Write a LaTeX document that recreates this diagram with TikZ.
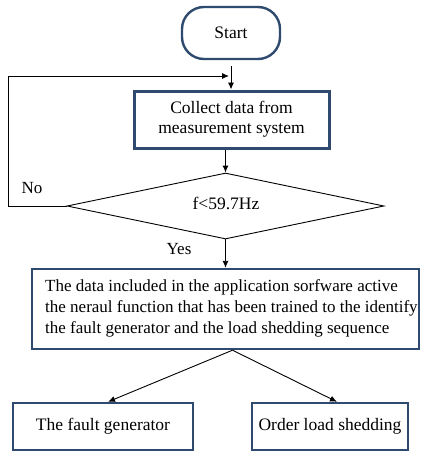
\documentclass[tikz,border=0pt]{standalone}
\usepackage{fontspec}
\setmainfont{Liberation Serif}
\usetikzlibrary{shapes.geometric,arrows.meta}
\definecolor{boxblue}{HTML}{2E4A6E}
\tikzset{
	blk/.style={draw=boxblue, line width=2.6pt, fill=white, inner sep=0pt},
	flow/.style={-{Latex[length=7pt,width=6pt]}, line width=0.9pt},
	lbl/.style={font=\fontsize{17}{20}\selectfont}
}

\begin{document}
\begin{tikzpicture}[x=1pt, y=-1pt, font=\fontsize{17.5}{21}\selectfont]
			%%%%% START %%%%%
			\useasboundingbox (0, 0) rectangle (420, 452);
			
			\node[blk, line width=2.4pt, rounded corners=22pt, minimum width=98pt, minimum height=52pt] (start) at (231, 33) {Start};
			
			\node[blk, line width=3pt, minimum width=195pt, minimum height=57pt, align=center] (collect) at (231.5, 119.5) {Collect data from\\[-1pt]measurement system};
			
			\node[draw, diamond, line width=0.9pt, inner sep=0pt, minimum width=317pt, minimum height=66pt] (check) at (225.5, 206) {};
			\node (cond) at (226, 203) {f<59.7Hz};
			
			\node[blk, line width=2.4pt, minimum width=387pt, minimum height=80pt] (nn) at (225.5, 309) {};
			\node[anchor=west, align=left, inner sep=0pt, font=\fontsize{17}{21}\selectfont] (nntext) at (45, 308) {The data included in the application sorfware active\\the neraul function that has been trained to the identify\\the fault generator and the load shedding sequence};
			
			\node[blk, line width=2.4pt, minimum width=180pt, minimum height=47pt] (fault) at (103, 426.5) {The fault generator};
			\node[blk, line width=2.4pt, minimum width=156pt, minimum height=47pt] (order) at (330, 426.5) {Order load shedding};
			
			\coordinate (join) at (229, 76);
			\coordinate (corner) at (8, 76);
			
			\draw[flow] ([yshift=-6pt]start.south) -- (start.south |- collect.north);
			\draw[flow] (collect.south -| check.north) -- (check.north);
			\draw[flow] (check.west) -- (check.west -| corner) -- (corner) -- (join);
			\draw[flow] (check.south) -- (nn.north -| check.south);
			\draw[flow] ([xshift=7pt]nn.south) -- ([xshift=5pt]fault.north);
			\draw[flow] ([xshift=7pt]nn.south) -- ([xshift=7pt]order.north);
			
			\node[lbl] (no) at (32, 188) {No};
			\node[lbl] (yes) at (179, 249) {Yes};
			
			%%%%% END %%%%%
\end{tikzpicture}
\end{document}
